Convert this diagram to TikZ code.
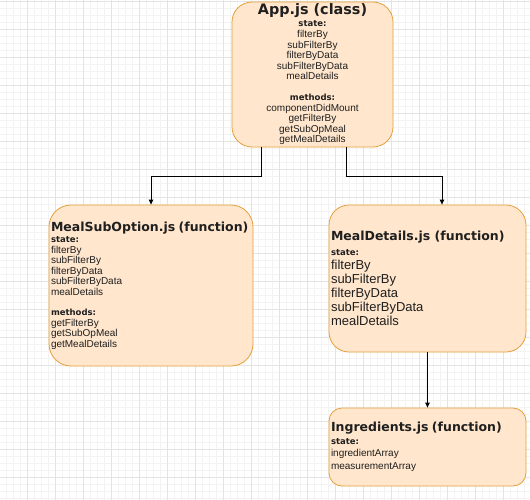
\documentclass[tikz,border=0pt]{standalone}
\usepackage{fontspec}
\setmainfont{Liberation Sans}
\newfontfamily\vera{DejaVu Sans}
\usetikzlibrary{arrows.meta}
\definecolor{boxfill}{HTML}{FFE6CC}
\definecolor{boxline}{HTML}{E3A03A}
\definecolor{gridmajor}{HTML}{E4E4E4}
\definecolor{gridminor}{HTML}{F3F3F3}
\newcommand{\cmptitle}[1]{{\vera\bfseries\fontsize{12.5}{14}\selectfont #1}}
\newcommand{\cmphead}[1]{{\vera\bfseries\fontsize{8.5}{10}\selectfont #1}}
\begin{document}
\begin{tikzpicture}[x=1pt,y=-1pt,
  box/.style={draw=boxline,fill=boxfill,line width=0.8pt,inner xsep=2pt,
    inner ysep=0pt,text=black!88},
  conn/.style={line width=0.9pt,-{Triangle[length=5pt,width=4.5pt]}}]
  \useasboundingbox (0,0) rectangle (530,500);
  % grid
  \foreach \i in {0,...,76}
    \draw[gridminor,line width=0.5pt] ({-1+7*\i},0) -- ({-1+7*\i},500);
  \foreach \i in {0,...,72}
    \draw[gridminor,line width=0.5pt] (0,{1+7*\i}) -- (530,{1+7*\i});
  \foreach \i in {0,...,19}
    \draw[gridmajor,line width=0.6pt] ({-1+28*\i},0) -- ({-1+28*\i},500);
  \foreach \i in {0,...,17}
    \draw[gridmajor,line width=0.6pt] (0,{1+28*\i}) -- (530,{1+28*\i});
  % components
  \node[box,rounded corners=20pt,minimum width=161pt,minimum height=145pt,
    align=center,font=\fontsize{10}{10.6}\selectfont] (app) at (312.5,74.5)
    {{\vera\bfseries\fontsize{14.4}{16}\selectfont App.js (class)}\\[1.4pt]
     \cmphead{state:}\\ filterBy\\ subFilterBy\\ filterByData\\
     subFilterByData\\ mealDetails\\[10pt]
     \cmphead{methods:}\\ componentDidMount\\ getFilterBy\\ getSubOpMeal\\
     getMealDetails};
  \node[box,rounded corners=22pt,text width=200pt,minimum height=161pt,
    align=left,font=\fontsize{10}{10.5}\selectfont] (sub) at (151,285.5)
    {\cmptitle{MealSubOption.js (function)}\\[1.4pt]
     \cmphead{state:}\\ filterBy\\ subFilterBy\\ filterByData\\
     subFilterByData\\ mealDetails\\[10pt]
     \cmphead{methods:}\\ getFilterBy\\ getSubOpMeal\\ getMealDetails};
  \node[box,rounded corners=20pt,text width=193pt,minimum height=147pt,
    align=left,font=\fontsize{13}{14}\selectfont] (det) at (427.5,278.5)
    {\cmptitle{MealDetails.js (function)}\\[1pt]
     \cmphead{state:}\\ filterBy\\ subFilterBy\\ filterByData\\
     subFilterByData\\ mealDetails};
  \node[box,rounded corners=13pt,text width=193pt,minimum height=78pt,
    align=left,font=\fontsize{10}{12.5}\selectfont] (ing) at (427.5,447)
    {\cmptitle{Ingredients.js (function)}\\[0pt]
     \cmphead{state:}\\ ingredientArray\\ measurementArray};
  % connectors
  \draw[conn] ([xshift=30pt]app.south west) -- ++(0,29) -| (sub.north);
  \draw[conn] ([xshift=-47pt]app.south east) -- ++(0,29)
    -| ([xshift=14.5pt]det.north);
  \draw[conn] (det) -- (ing);
\end{tikzpicture}
\end{document}
